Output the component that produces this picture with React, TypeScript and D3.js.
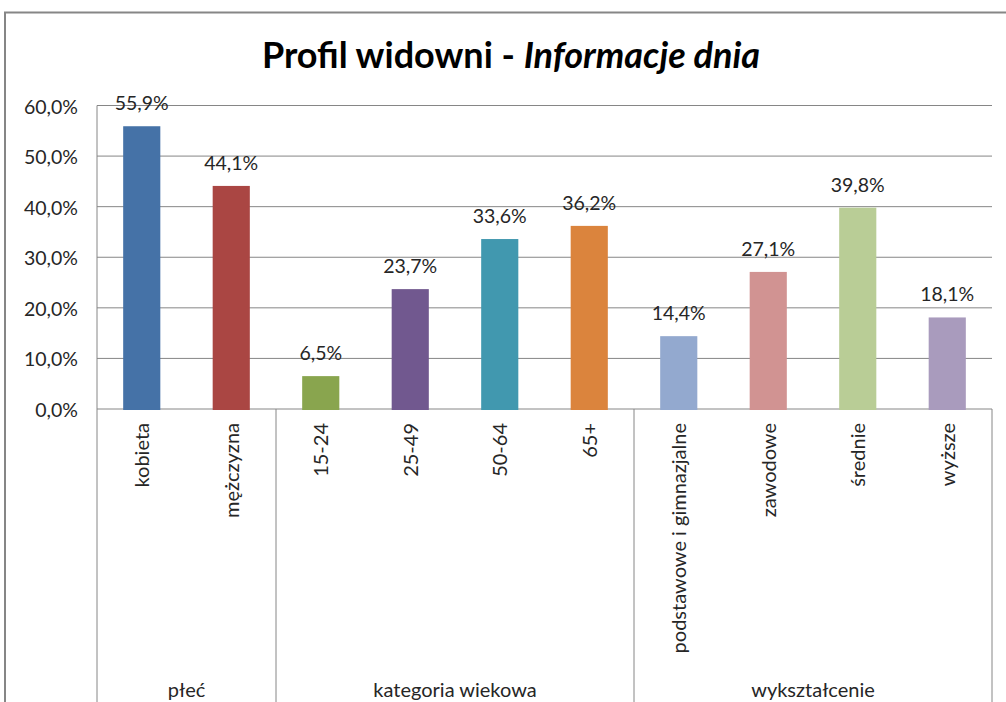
import React from 'react';
import * as d3 from 'd3';

// dane
const categories = ['kobieta', 'mężczyzna', '15-24', '25-49', '50-64', '65+', 'podstawowe i gimnazjalne', 'zawodowe', 'średnie', 'wyższe'];
const values = [55.9, 44.1, 6.5, 23.7, 33.6, 36.2, 14.4, 27.1, 39.8, 18.1];
const barColors = ['#4572A7', '#AA4643', '#89A54E', '#71588F', '#4198AF', '#DB843D', '#93A9CF', '#D19392', '#B9CD96', '#A99BBD'];
const groupNames = ['płeć', 'kategoria wiekowa', 'wykształcenie'];
const groupSizes = [2, 4, 4];
const yTicks = [0, 10, 20, 30, 40, 50, 60];

const W = 1006, H = 702;
const left = 97, right = 992, top = 105.5, bottom = 409;
const font = 'Lato, "Open Sans", sans-serif';

const pl = d3.formatLocale({ decimal: ',', thousands: ' ', grouping: [3], currency: ['', ' zł'] });
const fmt = pl.format('.1f');

export default function App() {
	const x = d3.scaleBand<string>().domain(categories).range([left, right]).padding(0);
	const y = d3.scaleLinear().domain([0, 60]).range([bottom, top]);
	const bw = x.bandwidth() * 0.415;

	// granice grup
	let acc = 0;
	const groups = groupNames.map((name, i) => {
		const start = acc;
		acc += groupSizes[i];
		const x0 = x(categories[start])!;
		const x1 = x(categories[acc - 1])! + x.bandwidth();
		return { name, x0, x1 };
	});

	return (
		<svg width={W} height={H} style={{ position: 'absolute', left: 0, top: 0, background: '#fff' }}>
			<path d={`M5,${H} V12.5 H${W}`} fill="none" stroke="#868686" strokeWidth={2} />

			<text x={511} y={68} textAnchor="middle" fontFamily={font} fontWeight="bold" fontSize={36} fill="#000">
				Profil widowni - <tspan fontStyle="italic">Informacje dnia</tspan>
			</text>

			{yTicks.map(t =>
				<g key={t}>
					<line x1={left} x2={right} y1={y(t)} y2={y(t)} stroke="#868686" strokeWidth={1} />
					<text x={78} y={y(t) + 8} textAnchor="end" fontFamily={font} fontSize={19.5} fill="#262626">{fmt(t)}%</text>
				</g>
			)}

			<line x1={left} x2={left} y1={top} y2={H} stroke="#868686" />
			{groups.map((g, i) =>
				<line key={i} x1={g.x1} x2={g.x1} y1={bottom} y2={H} stroke="#868686" />
			)}

			{categories.map((c, i) => {
				const cx = x(c)! + x.bandwidth() / 2;
				return (
					<g key={c}>
						<rect x={cx - bw / 2} y={y(values[i])} width={bw} height={y(0) - y(values[i]) + 1} fill={barColors[i]} />
						<text x={cx} y={y(values[i]) - 16} textAnchor="middle" fontFamily={font} fontSize={19.5} fill="#262626">{fmt(values[i])}%</text>
						<text transform={`translate(${cx + 7.5},423) rotate(-90)`} textAnchor="end" fontFamily={font} fontSize={20} fill="#262626">{c}</text>
					</g>
				);
			})}

			{groups.map((g, i) =>
				<text key={i} x={(g.x0 + g.x1) / 2} y={697} textAnchor="middle" fontFamily={font} fontSize={20} fill="#262626">{g.name}</text>
			)}
		</svg>
	);
}
